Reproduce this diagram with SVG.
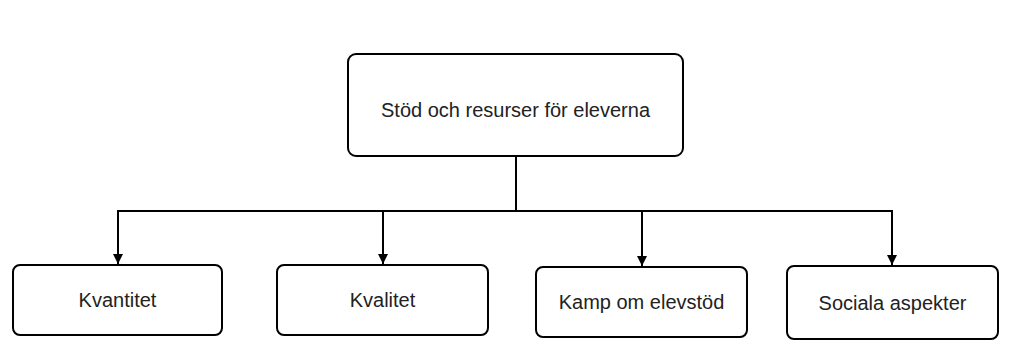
<svg xmlns="http://www.w3.org/2000/svg" width="1014" height="362" viewBox="0 0 1014 362">
<style>
.box{fill:#fff;stroke:#000;stroke-width:2}
.lbl{font-family:"Liberation Sans",Arial,sans-serif;font-size:20px;fill:#222;text-anchor:middle}
.con{fill:none;stroke:#000;stroke-width:2}
</style>
<defs>
<marker id="arr" viewBox="0 0 10 10" refX="10" refY="5" markerWidth="5" markerHeight="5" orient="auto" markerUnits="strokeWidth">
<path d="M0,0 L10,5 L0,10 z" fill="#000"/>
</marker>
</defs>
<rect width="1014" height="362" fill="#fff"/>
<g id="connectors">
<path class="con" d="M516,157 V211"/>
<path class="con" d="M516,211 H118 V264" marker-end="url(#arr)"/>
<path class="con" d="M383,211 V264" marker-end="url(#arr)"/>
<path class="con" d="M516,211 H892 V265" marker-end="url(#arr)"/>
<path class="con" d="M642,211 V266" marker-end="url(#arr)"/>
</g>
<g id="root">
<rect class="box" x="348" y="54" width="335" height="102" rx="8"/>
<text class="lbl" x="515.5" y="117">Stöd och resurser för eleverna</text>
</g>
<g id="kvantitet">
<rect class="box" x="13" y="265" width="209" height="70" rx="7"/>
<text class="lbl" x="117.5" y="307">Kvantitet</text>
</g>
<g id="kvalitet">
<rect class="box" x="277" y="265" width="211" height="70" rx="7"/>
<text class="lbl" x="382.5" y="307">Kvalitet</text>
</g>
<g id="kamp">
<rect class="box" x="536" y="267" width="211" height="70" rx="7"/>
<text class="lbl" x="641.5" y="309">Kamp om elevstöd</text>
</g>
<g id="sociala">
<rect class="box" x="787" y="266" width="211" height="73" rx="7"/>
<text class="lbl" x="892.5" y="310">Sociala aspekter</text>
</g>
</svg>
